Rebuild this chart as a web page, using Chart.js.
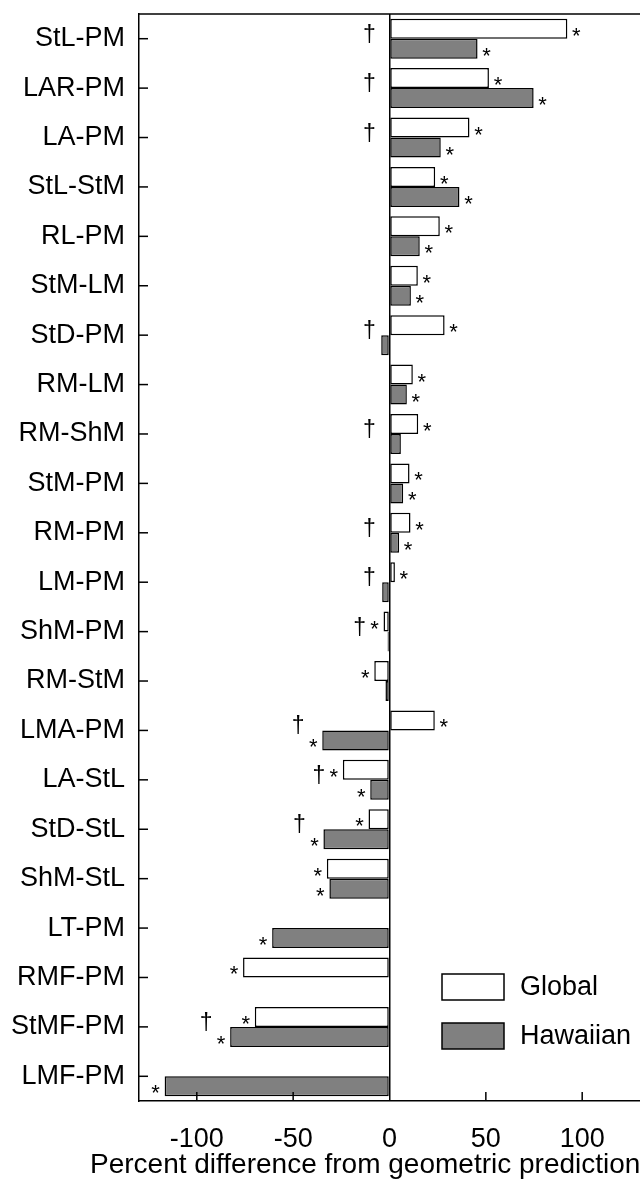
<!DOCTYPE html>
<html>
<head>
<meta charset="utf-8">
<script src="https://cdn.jsdelivr.net/npm/chart.js@4.4.0/dist/chart.umd.min.js"></script>
<style>
  html, body { margin: 0; padding: 0; background: #fff; overflow: hidden; }
</style>
</head>
<body>
<canvas id="grafico" width="640" height="1197"></canvas>
<script>
// Datos
const categorias = ['StL-PM', 'LAR-PM', 'LA-PM', 'StL-StM', 'RL-PM', 'StM-LM', 'StD-PM', 'RM-LM', 'RM-ShM', 'StM-PM', 'RM-PM',
    'LM-PM', 'ShM-PM', 'RM-StM', 'LMA-PM', 'LA-StL', 'StD-StL', 'ShM-StL', 'LT-PM', 'RMF-PM', 'StMF-PM', 'LMF-PM'];
const valoresGlobal = [92.3, 51.6, 41.5, 23.7, 26.1, 14.7, 28.6, 12.1, 14.9, 10.4, 10.9,
    2.8, -3.1, -7.9, 23.5, -24.2, -10.9, -32.5, null, -76.0, -69.9, null];
const valoresHawaiian = [45.7, 74.8, 26.6, 36.3, 15.7, 11.1, -4.3, 9.0, 5.9, 7.1, 5.0,
    -3.8, -1.0, -2.1, -34.9, -10.0, -34.3, -31.2, -60.9, null, -82.7, -116.7];
// * = diferencia significativa, † = diferencia entre conjuntos
const sigGlobal = [1, 1, 1, 1, 1, 1, 1, 1, 1, 1, 1, 1, 1, 1, 1, 1, 1, 1, 0, 1, 1, 0];
const sigHawaiian = [1, 1, 1, 1, 1, 1, 0, 1, 0, 1, 1, 0, 0, 0, 1, 1, 1, 1, 1, 0, 1, 1];
const daga = [1, 1, 1, 0, 0, 0, 1, 0, 1, 0, 1, 1, 1, 0, 1, 1, 1, 0, 0, 0, 1, 0];
const ticksX = [-100, -50, 0, 50, 100];
const tituloX = 'Percent difference from geometric predictions';

const fuente = '"Liberation Sans", Arial, Helvetica, sans-serif';

function linea(ctx, x1, y1, x2, y2) {
    ctx.beginPath();
    ctx.moveTo(x1, y1);
    ctx.lineTo(x2, y2);
    ctx.stroke();
}

// Marco superior, marcas internas, asteriscos, dagas, leyenda y titulo
const anotaciones = {
    id: 'anotaciones',
    afterDraw(chart) {
        const ctx = chart.ctx;
        const sx = chart.scales.x, sy = chart.scales.y;
        const area = chart.chartArea;
        const cero = sx.getPixelForValue(0);
        ctx.save();
        ctx.strokeStyle = '#000';
        ctx.lineWidth = 1.5;
        linea(ctx, area.left, area.top, area.right, area.top);
        sy.ticks.forEach((t, i) => {
            const py = sy.getPixelForTick(i);
            linea(ctx, area.left, py, area.left + 9, py);
        });
        sx.ticks.forEach((t, i) => {
            if (t.value === 0) return;
            const px = sx.getPixelForTick(i);
            linea(ctx, px, area.bottom, px, area.bottom - 9);
        });

        // asteriscos
        ctx.fillStyle = '#000';
        ctx.textAlign = 'center';
        ctx.textBaseline = 'alphabetic';
        ctx.font = '22px ' + fuente;
        const limite = categorias.map(() => cero - 20);
        [sigGlobal, sigHawaiian].forEach((sig, d) => {
            const meta = chart.getDatasetMeta(d);
            const datos = chart.data.datasets[d].data;
            meta.data.forEach((barra, i) => {
                if (datos[i] === null) return;
                if (datos[i] < 0) limite[i] = Math.min(limite[i], barra.x - 11);
                if (!sig[i]) return;
                const ax = datos[i] >= 0 ? barra.x + 9 : barra.x - 9;
                ctx.fillText('*', ax, barra.y + 14);
                if (datos[i] < 0) limite[i] = Math.min(limite[i], ax - 15);
            });
        });

        // dagas
        ctx.font = '23px ' + fuente;
        daga.forEach((v, i) => {
            if (!v) return;
            ctx.fillText('\u2020', limite[i], sy.getPixelForTick(i) + 3);
        });

        // leyenda
        const lx = area.right - 198;
        let ly = area.bottom - 127;
        ctx.font = '27px ' + fuente;
        ctx.textAlign = 'left';
        ctx.textBaseline = 'middle';
        chart.data.datasets.forEach(ds => {
            ctx.fillStyle = ds.backgroundColor;
            ctx.fillRect(lx, ly, 62, 26);
            ctx.strokeRect(lx, ly, 62, 26);
            ctx.fillStyle = '#000';
            ctx.fillText(ds.label, lx + 78, ly + 14);
            ly += 49;
        });

        // titulo del eje x
        ctx.font = '28px ' + fuente;
        ctx.fillText(tituloX, area.left - 49, area.bottom + 64);
        ctx.restore();
    }
};

new Chart(document.getElementById('grafico').getContext('2d'), {
    type: 'bar',
    data: {
        labels: categorias,
        datasets: [
            { label: 'Global', data: valoresGlobal, backgroundColor: '#ffffff', borderColor: '#000', borderWidth: 1.5, borderSkipped: false },
            { label: 'Hawaiian', data: valoresHawaiian, backgroundColor: '#808080', borderColor: '#000', borderWidth: 1.5, borderSkipped: false }
        ]
    },
    options: {
        indexAxis: 'y',
        responsive: false,
        animation: false,
        categoryPercentage: 0.81,
        barPercentage: 1.0,
        layout: { padding: { top: 14, right: 0, left: 0, bottom: 0 } },
        plugins: { legend: { display: false }, tooltip: { enabled: false } },
        scales: {
            x: {
                min: -130,
                max: 130,
                afterBuildTicks: s => { s.ticks = ticksX.map(v => ({ value: v })); },
                afterFit: s => { s.height = 96; s.paddingLeft = 0; s.paddingRight = 0; },
                grid: {
                    drawTicks: false,
                    lineWidth: 1.5,
                    color: c => (c.tick && c.tick.value === 0) ? '#000' : 'rgba(0,0,0,0)'
                },
                border: { display: true, color: '#000', width: 1.5 },
                ticks: { color: '#000', padding: 22, font: { family: fuente, size: 27 } }
            },
            y: {
                afterFit: s => { s.width = 139; s.paddingTop = 0; s.paddingBottom = 0; },
                grid: { display: false },
                border: { display: true, color: '#000', width: 1.5 },
                ticks: { color: '#000', padding: 6, font: { family: fuente, size: 27 } }
            }
        }
    },
    plugins: [anotaciones]
});
</script>
</body>
</html>
